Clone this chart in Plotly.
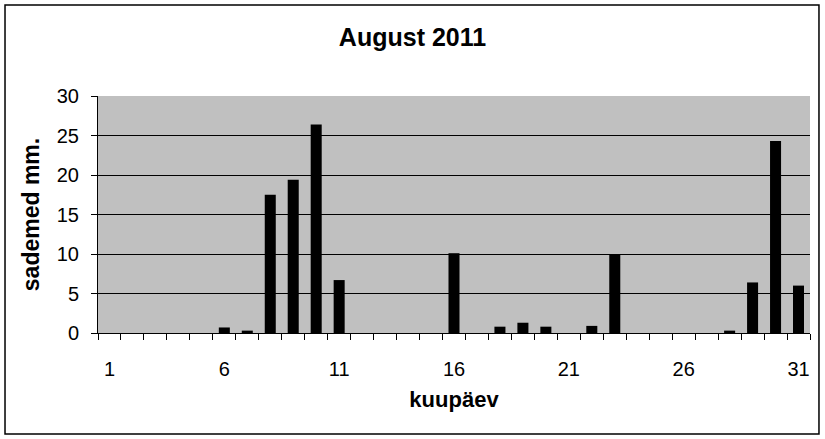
import plotly.graph_objects as go

# daily rainfall, August 2011
days = list(range(1, 32))
rain_mm = [0, 0, 0, 0, 0, 0.7, 0.3, 17.5, 19.4, 26.4,
           6.7, 0, 0, 0, 0, 10.1, 0, 0.8, 1.3, 0.8,
           0, 0.9, 9.9, 0, 0, 0, 0, 0.3, 6.4, 24.3,
           6.0]
x_labels = [1, 6, 11, 16, 21, 26, 31]
y_ticks = [0, 5, 10, 15, 20, 25, 30]

fig = go.Figure(go.Bar(x=days, y=rain_mm, marker=dict(color="black", line=dict(width=0))))

font = "Liberation Sans, Arial, sans-serif"
fig.update_layout(
    width=825, height=439,
    margin=dict(l=98, r=15, t=96, b=106),
    paper_bgcolor="white", plot_bgcolor="#c0c0c0",
    bargap=0.52, showlegend=False,
    font=dict(family=font, size=20, color="black"),
    title=dict(text="<b>August 2011</b>", x=0.5, xanchor="center",
               y=0.915, yanchor="middle", font=dict(size=25)),
)
fig.update_xaxes(
    range=[0.5, 31.5], tickmode="array", tickvals=x_labels, ticks="",
    ticklabelstandoff=18, showgrid=False, zeroline=False,
    showline=True, linecolor="black", linewidth=1,
    minor=dict(ticks="outside", tick0=0.5, dtick=1, ticklen=6,
               tickcolor="black", showgrid=False),
    title=dict(text="<b>kuupäev</b>", font=dict(size=22), standoff=12),
)
fig.update_yaxes(
    range=[0, 30], tickmode="array", tickvals=y_ticks, ticks="outside",
    ticklen=6, tickcolor="black", ticklabelstandoff=8,
    showgrid=True, gridcolor="black", gridwidth=1, zeroline=False,
    showline=True, linecolor="black", linewidth=1,
    title=dict(text="<b>sademed mm.</b>", font=dict(size=23), standoff=10),
)
# outer chart border
fig.add_shape(type="rect", xref="paper", yref="paper",
              x0=-0.1306, x1=1.0126, y0=-0.426, y1=1.384,
              line=dict(color="black", width=1.5), fillcolor="rgba(0,0,0,0)")

fig.write_html("out.html", config={"displayModeBar": False},
               post_script="document.body.style.margin='0';")
